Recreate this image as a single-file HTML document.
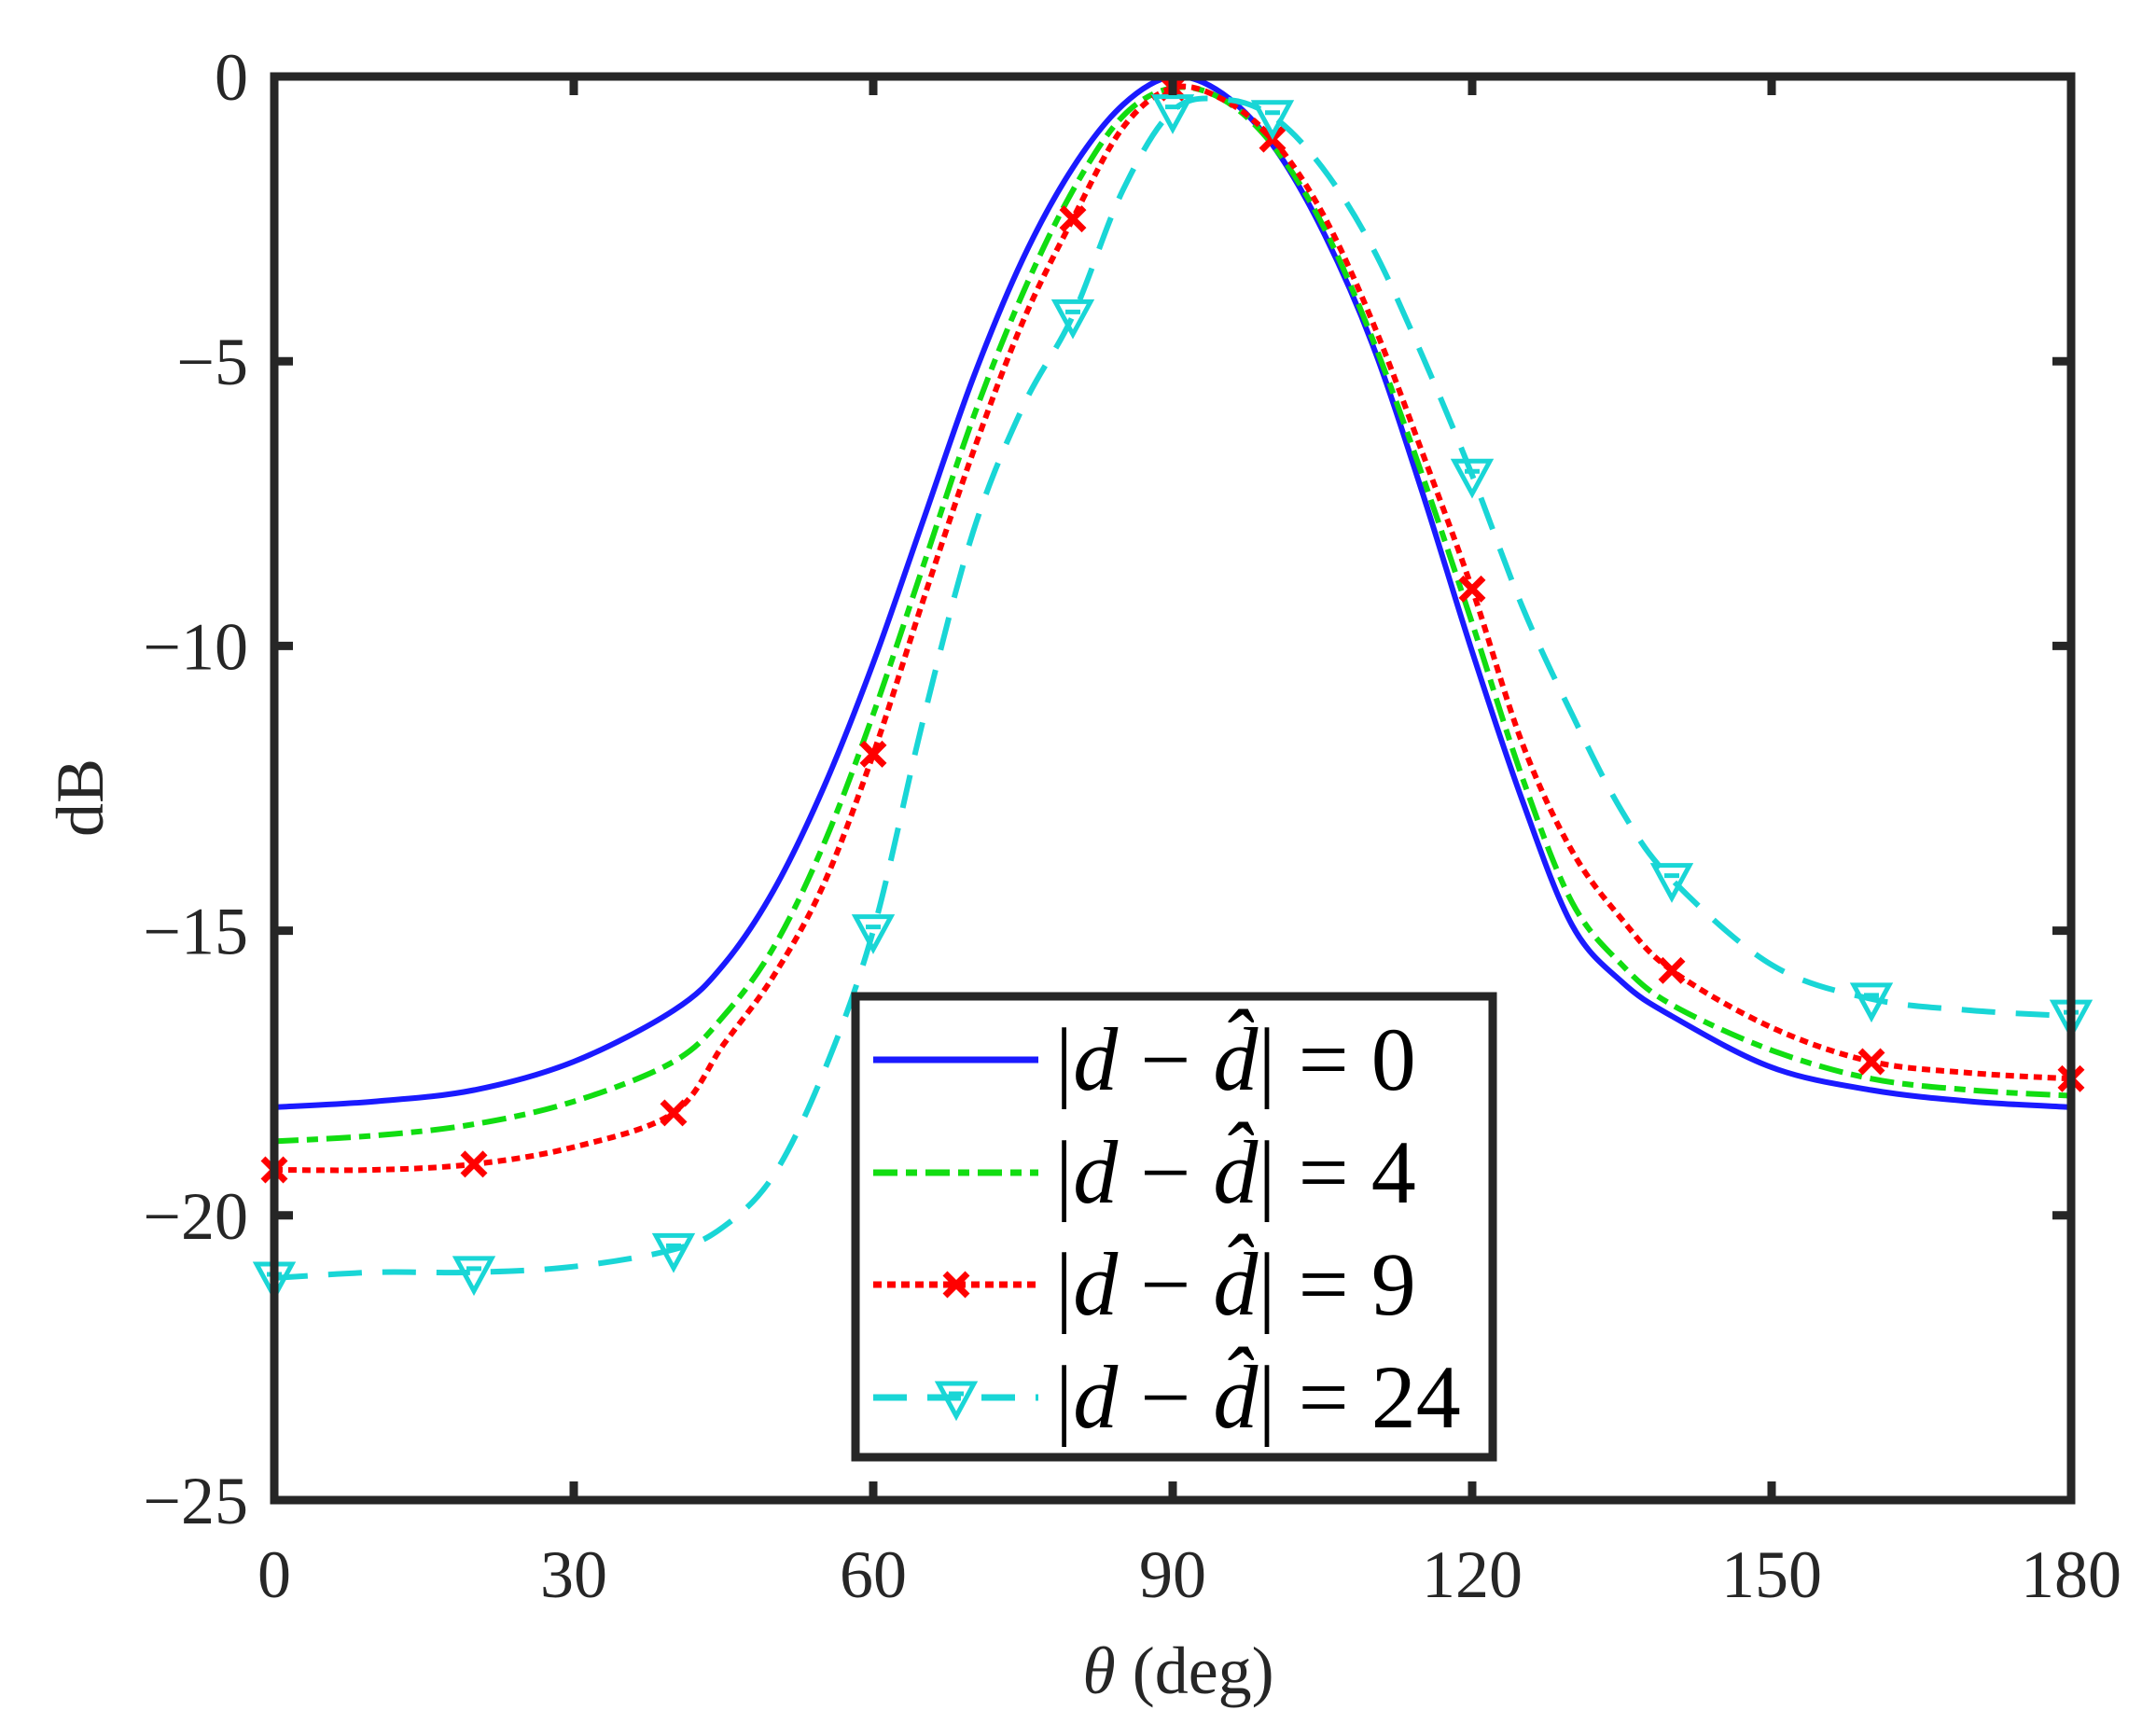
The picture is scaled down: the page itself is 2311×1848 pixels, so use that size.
<!DOCTYPE html>
<html><head><meta charset="utf-8"><style>
html,body{margin:0;padding:0;background:#fff;}
svg{display:block;font-family:"Liberation Serif",serif;}
</style></head><body>
<svg id="chart" width="2311" height="1848" viewBox="0 0 2311 1848">
<g id="plot"></g>
</svg>
<script>
const xs = [0,10,20,30,40,45,50,55,60,65,70,75,80,85,90,95,100,105,110,115,120,125,130,135,140,150,160,170,180];
const blueVals = [-18.1,-18.0,-17.8,-17.3,-16.4,-15.6,-14.3,-12.5,-10.3,-7.8,-5.3,-3.2,-1.6,-0.5,0,-0.3,-1.2,-2.7,-4.7,-7.3,-10.1,-12.7,-14.9,-15.9,-16.5,-17.4,-17.8,-18.0,-18.1];
const greenVals = [-18.7,-18.6,-18.4,-18.0,-17.3,-16.5,-15.3,-13.5,-11.2,-8.6,-6.0,-3.8,-2.0,-0.7,-0.2,-0.4,-1.2,-2.6,-4.6,-7.0,-9.6,-12.3,-14.5,-15.6,-16.3,-17.1,-17.6,-17.8,-17.9];
const redVals = [-19.2,-19.2,-19.1,-18.8,-18.2,-17.0,-15.8,-14.2,-11.9,-9.2,-6.6,-4.3,-2.5,-0.9,-0.2,-0.4,-1.1,-2.4,-4.3,-6.6,-9.0,-11.7,-13.6,-14.8,-15.7,-16.7,-17.3,-17.5,-17.6];
const cyanVals = [-21.1,-21.0,-21.0,-20.9,-20.6,-20.2,-19.3,-17.5,-15.0,-11.3,-8.0,-5.8,-4.2,-2.0,-0.6,-0.4,-0.7,-1.6,-3.0,-4.9,-7.0,-9.3,-11.2,-12.9,-14.1,-15.6,-16.2,-16.4,-16.5];
const markerXs = [0,20,40,60,80,90,100,120,140,160,180];
const xTicks = [0,30,60,90,120,150,180];
const yTicks = [0,-5,-10,-15,-20,-25];
const legendLabels = ["0","4","9","24"];

const NS="http://www.w3.org/2000/svg";
const L=294,R=2220,T=82,B=1608;
const sx=v=>L+(v-0)/180*(R-L);
const sy=v=>T+(0-v)/25*(B-T);
const plot=document.getElementById('plot');
function mk(tag,attrs,parent){const e=document.createElementNS(NS,tag);for(const k in attrs)e.setAttribute(k,attrs[k]);(parent||plot).appendChild(e);return e;}

const clip=mk('clipPath',{id:'clp'});mk('rect',{x:L,y:T-30,width:R-L,height:B-T+30},clip);

const series=[
 {name:'series-d0',vals:blueVals,color:'#1a1aff',dash:'',marker:null},
 {name:'series-d4',vals:greenVals,color:'#11dd11',dash:'26 9 12 9',marker:null},
 {name:'series-d9',vals:redVals,color:'#ff0000',dash:'9 6',marker:'x'},
 {name:'series-d24',vals:cyanVals,color:'#19d6d6',dash:'36 22',marker:'tri'}
];
function smoothPath(pts){
 let d='M'+pts[0][0].toFixed(1)+' '+pts[0][1].toFixed(1);
 for(let i=0;i<pts.length-1;i++){
  const p0=pts[Math.max(0,i-1)],p1=pts[i],p2=pts[i+1],p3=pts[Math.min(pts.length-1,i+2)];
  const c1x=p1[0]+(p2[0]-p0[0])/6,c1y=p1[1]+(p2[1]-p0[1])/6;
  const c2x=p2[0]-(p3[0]-p1[0])/6,c2y=p2[1]-(p3[1]-p1[1])/6;
  d+='C'+c1x.toFixed(1)+' '+c1y.toFixed(1)+' '+c2x.toFixed(1)+' '+c2y.toFixed(1)+' '+p2[0].toFixed(1)+' '+p2[1].toFixed(1);
 }
 return d;
}
function drawMarker(type,cx,cy,color,name){
 let m;
 if(type==='x'){
  m=mk('path',{d:`M${cx-12} ${cy-12}L${cx+12} ${cy+12}M${cx-12} ${cy+12}L${cx+12} ${cy-12}`,stroke:color,'stroke-width':7,fill:'none'});
 } else {
  m=mk('path',{d:`M${cx-19} ${cy-15}L${cx+19} ${cy-15}L${cx} ${cy+20}Z M${cx-8} ${cy-4}L${cx+8} ${cy-4}`,stroke:color,'stroke-width':5,fill:'none'});
 }
 
 
}
series.forEach(s=>{
 const pts=xs.map((x,i)=>[sx(x),sy(s.vals[i])]);
 const p=mk('path',{d:smoothPath(pts),stroke:s.color,'stroke-width':6,fill:'none','stroke-dasharray':s.dash,'clip-path':'url(#clp)','stroke-linejoin':'round'});
 
 
 if(s.marker){
  markerXs.forEach(mx=>{const i=xs.indexOf(mx);drawMarker(s.marker,sx(mx),sy(s.vals[i]),s.color,s.name+'-marker');});
 }
});

const box=mk('rect',{x:L,y:T,width:R-L,height:B-T,fill:'none',stroke:'#262626','stroke-width':9});


xTicks.forEach(t=>{
 const x=sx(t);
 mk('line',{x1:x,y1:B,x2:x,y2:B-20,stroke:'#262626','stroke-width':9});
 mk('line',{x1:x,y1:T,x2:x,y2:T+20,stroke:'#262626','stroke-width':9});
 const tx=mk('text',{x:x,y:1712,'font-size':72,'text-anchor':'middle',fill:'#262626'});tx.textContent=t;
 
 
});
yTicks.forEach(t=>{
 const y=sy(t);
 mk('line',{x1:L,y1:y,x2:L+20,y2:y,stroke:'#262626','stroke-width':9});
 mk('line',{x1:R,y1:y,x2:R-20,y2:y,stroke:'#262626','stroke-width':9});
 const tx=mk('text',{x:266,y:y+25,'font-size':72,'text-anchor':'end',fill:'#262626'});tx.textContent=t===0?'0':'\u2212'+Math.abs(t);
 
 
});
const xt=mk('text',{x:1263,y:1815,'font-size':72,'text-anchor':'middle',fill:'#262626'});
xt.innerHTML='<tspan font-style="italic">θ</tspan> (deg)';


const yt=mk('text',{x:0,y:0,'font-size':72,'text-anchor':'middle',fill:'#262626',transform:'translate(110,855) rotate(-90)'});
yt.textContent='dB';



const lg=mk('g',{});


mk('rect',{x:917,y:1068,width:683,height:494,fill:'#fff',stroke:'#262626','stroke-width':9},lg);
const rowY=[1136,1257,1377,1498];
series.forEach((s,i)=>{
 const y=rowY[i];
 const ln=mk('line',{x1:936,y1:y,x2:1113,y2:y,stroke:s.color,'stroke-width':7,'stroke-dasharray':s.dash},lg);
 
 
 if(s.marker) drawMarker(s.marker,1025,y,s.color,'legend-marker');
 const tx=mk('text',{x:1131,y:y+32,'font-size':96,fill:'#000'},lg);
 tx.innerHTML='|<tspan font-style="italic">d</tspan> − <tspan font-style="italic">d̂</tspan>| = '+legendLabels[i];
 
 
});
</script>
</body></html>
